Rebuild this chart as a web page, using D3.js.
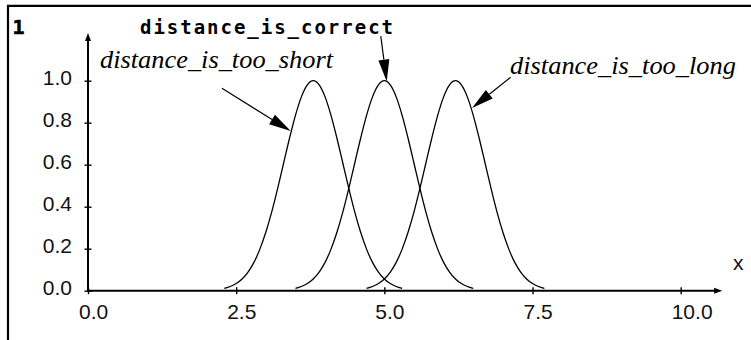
<!DOCTYPE html>
<html>
<head>
<meta charset="utf-8">
<script src="https://cdn.jsdelivr.net/npm/d3@7"></script>
<style>
  html, body { margin: 0; padding: 0; background: #fff; }
  svg { display: block; }
  .sans { font-family: "Liberation Sans", Arial, sans-serif; }
  .serif { font-family: "Liberation Serif", "DejaVu Serif", "Times New Roman", serif; font-style: italic; }
  .mono { font-family: "DejaVu Sans Mono", "Liberation Mono", monospace; font-weight: bold; }
</style>
</head>
<body>
<svg id="chart" width="751" height="340"></svg>
<script>
// ---- data ----
const xTicks = [0, 2.5, 5, 7.5, 10];
const xTickLabels = ["0.0", "2.5", "5.0", "7.5", "10.0"];
const yTicks = [0, 0.2, 0.4, 0.6, 0.8, 1.0];
const yTickLabels = ["0.0", "0.2", "0.4", "0.6", "0.8", "1.0"];

const seriesNames = ["distance_is_too_short", "distance_is_correct", "distance_is_too_long"];

const shortX = [2.3,2.4,2.5,2.6,2.7,2.8,2.9,3.0,3.1,3.2,3.3,3.4,3.5,3.6,3.7,3.8,3.9,4.0,4.1,4.2,4.3,4.4,4.5,4.6,4.7,4.8,4.9,5.0,5.1,5.2,5.3];
const shortY = [0.011,0.020,0.034,0.056,0.089,0.135,0.198,0.278,0.375,0.487,0.607,0.726,0.835,0.923,0.980,1.000,0.980,0.923,0.835,0.726,0.607,0.487,0.375,0.278,0.198,0.135,0.089,0.056,0.034,0.020,0.011];

const correctX = [3.5,3.6,3.7,3.8,3.9,4.0,4.1,4.2,4.3,4.4,4.5,4.6,4.7,4.8,4.9,5.0,5.1,5.2,5.3,5.4,5.5,5.6,5.7,5.8,5.9,6.0,6.1,6.2,6.3,6.4,6.5];
const correctY = [0.011,0.020,0.034,0.056,0.089,0.135,0.198,0.278,0.375,0.487,0.607,0.726,0.835,0.923,0.980,1.000,0.980,0.923,0.835,0.726,0.607,0.487,0.375,0.278,0.198,0.135,0.089,0.056,0.034,0.020,0.011];

const longX = [4.7,4.8,4.9,5.0,5.1,5.2,5.3,5.4,5.5,5.6,5.7,5.8,5.9,6.0,6.1,6.2,6.3,6.4,6.5,6.6,6.7,6.8,6.9,7.0,7.1,7.2,7.3,7.4,7.5,7.6,7.7];
const longY = [0.011,0.020,0.034,0.056,0.089,0.135,0.198,0.278,0.375,0.487,0.607,0.726,0.835,0.923,0.980,1.000,0.980,0.923,0.835,0.726,0.607,0.487,0.375,0.278,0.198,0.135,0.089,0.056,0.034,0.020,0.011];

// arrow annotations: [label-side point (x,y), tip point (x,y)] in data units
const arrowShort   = [[2.26, 0.964], [3.42, 0.760]];
const arrowCorrect = [[4.94, 1.212], [5.04, 0.996]];
const arrowLong    = [[7.13, 1.016], [6.48, 0.870]];

// ---- drawing ----
const svg = d3.select("#chart");
const x = d3.scaleLinear().domain([0, 10]).range([88, 680.7]);
const y = d3.scaleLinear().domain([0, 1]).range([290.7, 80.7]);

svg.append("rect").attr("width", 751).attr("height", 340).attr("fill", "#fff");

// frame (top + left)
svg.append("path")
  .attr("d", "M8,340 V5.8 H751")
  .attr("fill", "none").attr("stroke", "#000").attr("stroke-width", 2.2);

// corner label
svg.append("text").attr("class", "mono").attr("x", 12.5).attr("y", 34)
  .attr("font-size", 20).attr("stroke", "#000").attr("stroke-width", 0.6).text("1");

// axes
const xAxisG = svg.append("g").attr("transform", `translate(0,${y(0)})`)
  .call(d3.axisBottom(x).tickValues(xTicks).tickFormat("").tickSizeOuter(0));
xAxisG.select(".domain").attr("d", `M${x(0) - 1},0H${x(10.62)}`).attr("stroke-width", 2);
xAxisG.selectAll(".tick line").attr("y1", -3.5).attr("y2", 3.5).attr("stroke-width", 1.4);

const yAxisG = svg.append("g").attr("transform", `translate(${x(0)},0)`)
  .call(d3.axisLeft(y).tickValues(yTicks).tickFormat("").tickSizeOuter(0));
yAxisG.select(".domain").attr("d", `M0,${y(0) + 1}V${y(1.205)}`).attr("stroke-width", 2);
yAxisG.selectAll(".tick line").attr("x1", -3.5).attr("x2", 3.5).attr("stroke-width", 1.4);

// axis arrowheads
const yTop = y(1.227);
svg.append("path")
  .attr("d", `M${x(0)},${yTop} L${x(0) - 3},${yTop + 8} L${x(0) + 3},${yTop + 8} Z`)
  .attr("fill", "#000");
const xEnd = x(10.7);
svg.append("path")
  .attr("d", `M${xEnd},${y(0)} L${xEnd - 8},${y(0) - 3} L${xEnd - 8},${y(0) + 3} Z`)
  .attr("fill", "#000");

// tick labels
svg.append("g").selectAll("text").data(xTicks).join("text")
  .attr("class", "sans")
  .attr("x", d => x(d) - 9)
  .attr("y", y(0) + 28)
  .attr("font-size", 21).attr("fill", "#111")
  .text((d, i) => xTickLabels[i]);

svg.append("g").selectAll("text").data(yTicks).join("text")
  .attr("class", "sans")
  .attr("x", 72)
  .attr("y", d => y(d) + 4)
  .attr("text-anchor", "end")
  .attr("font-size", 21).attr("fill", "#111")
  .text((d, i) => yTickLabels[i]);

// x axis name
svg.append("text").attr("class", "sans").attr("x", 733).attr("y", 270)
  .attr("font-size", 21).attr("fill", "#111").text("x");

// curves
const line = d3.line().x(d => x(d[0])).y(d => y(d[1])).curve(d3.curveMonotoneX);
const series = [
  [shortX, shortY],
  [correctX, correctY],
  [longX, longY]
];
svg.append("g").selectAll("path").data(series).join("path")
  .attr("d", s => line(s[0].map((v, i) => [v, s[1][i]])))
  .attr("fill", "none").attr("stroke", "#000").attr("stroke-width", 1.3);

// labels
svg.append("text").attr("class", "mono").attr("x", 140).attr("y", 34)
  .attr("font-size", 19)
  .attr("textLength", 253).attr("lengthAdjust", "spacing")
  .text(seriesNames[1]);

svg.append("text").attr("class", "serif").attr("x", 100).attr("y", 68)
  .attr("font-size", 26)
  .attr("textLength", 233).attr("lengthAdjust", "spacingAndGlyphs")
  .text(seriesNames[0]);

svg.append("text").attr("class", "serif").attr("x", 510).attr("y", 73.5)
  .attr("font-size", 26)
  .attr("textLength", 226).attr("lengthAdjust", "spacingAndGlyphs")
  .text(seriesNames[2]);

// annotation arrows
function arrow(a) {
  const x0 = x(a[0][0]), y0 = y(a[0][1]), x1 = x(a[1][0]), y1 = y(a[1][1]);
  const dx = x1 - x0, dy = y1 - y0, len = Math.hypot(dx, dy);
  const ux = dx / len, uy = dy / len;
  const hl = 22, hw = 5.5;
  const bx = x1 - ux * hl, by = y1 - uy * hl;
  const g = svg.append("g");
  g.append("line").attr("x1", x0).attr("y1", y0).attr("x2", bx).attr("y2", by)
    .attr("stroke", "#000").attr("stroke-width", 1.2);
  g.append("path")
    .attr("d", `M${x1},${y1} L${bx - uy * hw},${by + ux * hw} L${bx + uy * hw},${by - ux * hw} Z`)
    .attr("fill", "#000");
}
arrow(arrowShort);
arrow(arrowCorrect);
arrow(arrowLong);
</script>
</body>
</html>
